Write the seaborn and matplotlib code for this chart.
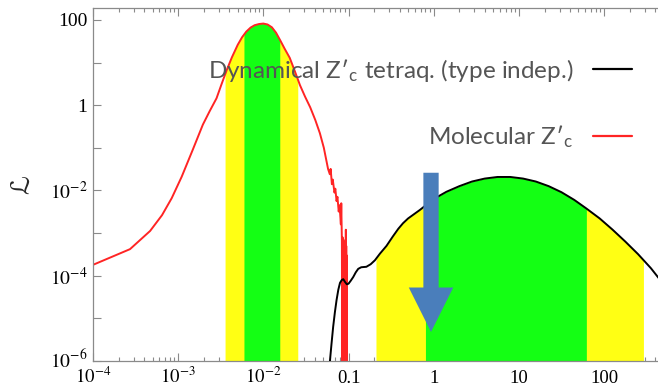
import numpy as np
import matplotlib
matplotlib.use("Agg")
import matplotlib.pyplot as plt
import matplotlib.transforms as mtrans
import seaborn as sns
from matplotlib.patches import FancyArrowPatch
from matplotlib.ticker import NullLocator, LogLocator, NullFormatter
from matplotlib.lines import Line2D

# ---------------- data ----------------
mol_x = [1.0e-4, 2.72e-4, 4.68e-4, 6.46e-4, 8.4e-4, 1.1e-3, 1.48e-3, 1.95e-3,
         2.34e-3, 2.82e-3, 3.24e-3, 3.72e-3, 4.27e-3, 5.0e-3, 5.62e-3, 6.3e-3,
         7.08e-3, 7.9e-3, 8.91e-3, 1.0e-2, 1.12e-2, 1.26e-2, 1.41e-2, 1.58e-2,
         1.78e-2, 2.04e-2, 2.34e-2, 2.69e-2, 3.09e-2, 3.55e-2, 4.07e-2, 4.61e-2,
         5.13e-2, 5.75e-2,
         6.03e-2, 6.17e-2, 6.38e-2, 6.53e-2, 6.84e-2, 7.0e-2, 7.24e-2, 7.41e-2,
         7.67e-2, 7.85e-2, 8.13e-2, 8.22e-2, 8.36e-2,
         0.0845, 0.0850, 0.0855, 0.0860, 0.0865, 0.0870, 0.0875, 0.0880,
         0.0885, 0.0890, 0.0895, 0.0900, 0.0905, 0.0910, 0.0915, 0.0920,
         0.0925, 0.0930, 0.0935, 0.0940, 0.0945, 0.0950, 0.0955]
mol_y = [1.8e-4, 4.2e-4, 1.12e-3, 2.63e-3, 6.6e-3, 2.1e-2, 8.9e-2, 0.35,
         0.72, 1.45, 3.16, 6.7, 13.2, 26, 39, 53,
         66, 75, 80, 82, 78, 67, 50, 33,
         21, 12.9, 6.3, 2.95, 1.58, 0.89, 0.45, 0.22,
         0.1, 3.2e-2,
         2.4e-2, 3.2e-2, 1.4e-2, 1.8e-2, 8.9e-3, 1.1e-2, 5.6e-3, 7.1e-3,
         3.2e-3, 4.5e-3, 1.6e-3, 5.0e-3, 6.3e-4,
         1e-7, 8e-4, 1e-7, 6e-4, 1e-7, 7e-4, 1e-7, 5e-4,
         1e-7, 6e-4, 1e-7, 5e-4, 1e-7, 4e-4, 1e-7, 6e-4,
         1e-7, 1.2e-3, 1e-7, 5e-4, 1e-7, 3e-4, 1e-7]
n_smooth = 34  # points of the molecular curve before the noisy tail

tet_x = [0.058, 0.0605, 0.0631, 0.066, 0.0692, 0.0724, 0.0759, 0.0794,
         0.0832, 0.0867, 0.0912, 0.0955, 0.1, 0.106, 0.1135, 0.1216, 0.13,
         0.141, 0.162, 0.182, 0.204, 0.234, 0.279, 0.331, 0.384, 0.436, 0.5,
         0.69, 1.0, 1.41, 2.0, 2.82, 3.98, 5.62, 7.94, 11.2, 15.8, 22.4, 31.6,
         44.7, 61.7, 89, 126, 178, 251, 355, 500]
tet_y = [3e-7, 1e-6, 2.5e-6, 6.3e-6, 1.4e-5, 2.7e-5, 4.7e-5, 6.8e-5,
         7.9e-5, 8.3e-5, 7.1e-5, 6.3e-5, 6.5e-5, 7.6e-5, 9.3e-5, 1.2e-4, 1.45e-4,
         1.58e-4, 1.62e-4, 1.86e-4, 2.3e-4, 3.3e-4, 5.0e-4, 8.3e-4, 1.26e-3,
         1.7e-3, 2.2e-3,
         3.5e-3, 6.3e-3, 9.3e-3, 1.26e-2, 1.62e-2, 1.9e-2, 2.07e-2, 2.07e-2,
         1.9e-2, 1.62e-2, 1.26e-2, 9.1e-3,
         6.0e-3, 3.8e-3, 2.2e-3, 1.2e-3, 6.3e-4, 3.2e-4, 1.5e-4, 6.3e-5]

mol_yellow = (3.6e-3, 2.57e-2)
mol_green = (6.0e-3, 1.58e-2)
tet_yellow = (0.21, 290)
tet_green = (0.80, 62)

arrow_x = 0.93
arrow_y = (2.6e-2, 4.8e-6)

x_ticks = [1e-4, 1e-3, 1e-2, 1e-1, 1, 10, 100]
x_labels = [r"$10^{-4}$", r"$10^{-3}$", r"$10^{-2}$", "0.1", "1", "10", "100"]
y_ticks = [1e-6, 1e-5, 1e-4, 1e-3, 1e-2, 1e-1, 1, 10, 100]
y_labels = [r"$10^{-6}$", "", r"$10^{-4}$", "", r"$10^{-2}$", "", "1", "", "100"]

label_tet = "Dynamical Z\u2032$_\\mathregular{c}$ tetraq. (type indep.)"
label_mol = "Molecular Z\u2032$_\\mathregular{c}$"

# ---------------- style ----------------
sns.set_style("ticks")
plt.rcParams["font.family"] = ["Liberation Serif", "DejaVu Serif"]
plt.rcParams["mathtext.fontset"] = "stix"

YELLOW = "#ffff14"
GREEN = "#14ff14"
RED = "#ff2424"
BLACK = "#000000"
BLUE = "#4a7ebb"

fig = plt.figure(figsize=(6.58, 3.87), dpi=100)
ax = fig.add_axes([93 / 658, 1 - 361 / 387, 565 / 658, 353 / 387])
ax.set_xscale("log")
ax.set_yscale("log")
ax.set_xlim(1e-4, 430)
ax.set_ylim(1e-6, 190)


def fill_band(xs, ys, lo, hi, color, z):
    gx = np.geomspace(lo, hi, 400)
    gy = 10 ** np.interp(np.log10(gx), np.log10(xs), np.log10(ys))
    ax.fill_between(gx, 1e-8, gy, color=color, lw=0, zorder=z)


fill_band(mol_x[:n_smooth], mol_y[:n_smooth], *mol_yellow, YELLOW, 1)
fill_band(mol_x[:n_smooth], mol_y[:n_smooth], *mol_green, GREEN, 1.1)
fill_band(tet_x, tet_y, *tet_yellow, YELLOW, 1)
fill_band(tet_x, tet_y, *tet_green, GREEN, 1.1)

sns.lineplot(x=mol_x, y=mol_y, ax=ax, color=RED, lw=1.4, estimator=None,
             sort=False, zorder=2)
sns.lineplot(x=tet_x, y=tet_y, ax=ax, color=BLACK, lw=1.4, estimator=None,
             sort=False, zorder=3)

arr = FancyArrowPatch((arrow_x, arrow_y[0]), (arrow_x, arrow_y[1]),
                      arrowstyle="simple,head_length=32,head_width=32,tail_width=11",
                      mutation_scale=1, color=BLUE, lw=0, zorder=4,
                      shrinkA=0, shrinkB=0)
ax.add_patch(arr)

# ---------------- axes ----------------
ax.set_xticks(x_ticks, x_labels)
ax.xaxis.set_minor_locator(LogLocator(base=10, subs=np.arange(2, 10), numticks=20))
ax.xaxis.set_minor_formatter(NullFormatter())
ax.set_yticks(y_ticks, y_labels)
ax.yaxis.set_minor_locator(NullLocator())

for lab in ax.get_xticklabels():
    lab.set_verticalalignment("baseline")

ax.tick_params(which="both", direction="in", top=True, right=False,
               color="#8a8a8a", width=0.8, labelsize=14, labelcolor="black")
ax.tick_params(axis="x", labelsize=13.5)
ax.tick_params(which="major", length=6)
ax.tick_params(which="minor", length=3)
ax.tick_params(axis="x", pad=15.5)
ax.tick_params(axis="y", pad=4)

# nudge the lowest y label up a little so it clears the first x label
lab0 = ax.yaxis.get_major_ticks()[0].label1
lab0.set_transform(lab0.get_transform()
                   + mtrans.ScaledTranslation(0, 0.03, fig.dpi_scale_trans))

for s in ["left", "bottom", "top"]:
    ax.spines[s].set_color("#8a8a8a")
    ax.spines[s].set_linewidth(0.9)
ax.spines["right"].set_visible(False)

ax.set_ylabel("\u2112", fontsize=19, family=["DejaVu Serif", "DejaVu Sans"])
ax.yaxis.set_label_coords(-0.104, 0.5)
ax.set_xlabel("")

# ---------------- legend ----------------
handles = [Line2D([], [], color=BLACK, lw=1.6), Line2D([], [], color=RED, lw=1.6)]
fs = 17.5
fpx = fs * 100 / 72
leg = ax.legend(handles, [label_tet, label_mol], loc="upper right",
                bbox_to_anchor=(0.954, 0.862), frameon=False, markerfirst=False,
                borderpad=0, borderaxespad=0, handlelength=39 / fpx,
                handletextpad=20 / fpx, labelspacing=1.64,
                prop={"family": ["Lato", "DejaVu Sans"], "size": fs},
                labelcolor="#555555")

fig.savefig("out.png", dpi=100)
